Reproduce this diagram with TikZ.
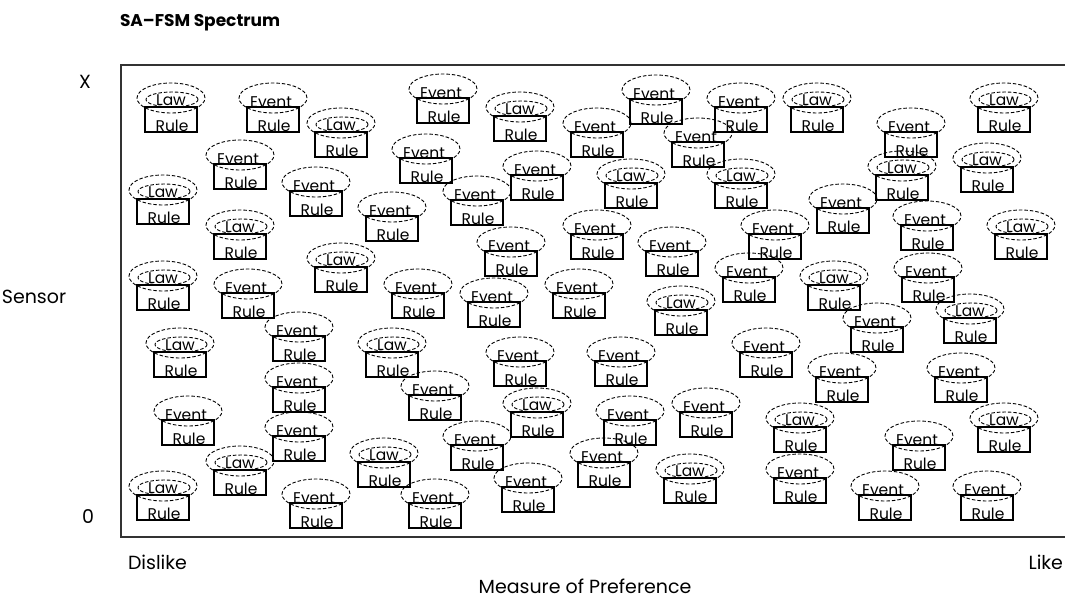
\documentclass[tikz,border=0pt]{standalone}
\usepackage{fontspec}
\setmainfont{Poppins}
\usepackage{tikz}
\usetikzlibrary{shapes.geometric}

\begin{document}
\begin{tikzpicture}[x=1pt, y=-1pt, every node/.style={inner sep=0pt, outer sep=0pt},
      oval/.style={ellipse, draw, dash pattern=on 3.5pt off 2pt, line width=0.9pt, minimum width=68pt, minimum height=30pt},
      inoval/.style={oval, minimum width=52pt, minimum height=15pt},
      rulebox/.style={draw, line width=1.2pt, minimum width=52pt, minimum height=25pt},
      tag/.style={anchor=base, font=\fontsize{15.5}{16}\selectfont},
      axis/.style={font=\fontsize{19}{20}\selectfont}]
      \useasboundingbox (0,0) rectangle (1065,598);
      \node[anchor=west, font=\bfseries\fontsize{17}{18}\selectfont] (title) at (120,23) {SA--FSM Spectrum};
      \draw[line width=2pt, draw=black!80] (121,65) rectangle (1070,537);
      \node[axis] (top) at (85,82) {X};
      \node[axis] (sensor) at (34,297) {Sensor};
      \node[axis] (zero) at (88,517) {0};
      \node[axis, anchor=west] (dislike) at (128,562) {Dislike};
      \node[axis, anchor=east] (like) at (1063,562) {Like};
      \node[axis] (measure) at (585,586) {Measure of Preference};
      % law caps
      \foreach \cx/\cy [count=\i] in {171/98, 341/123, 520/107, 817/98, 1004/98, 631/174, 741/174, 902/166,
          987/158, 163/190, 240/225, 1021/225, 341/258, 163/276, 834/276, 681/301, 970/309, 180/343,
          392/343, 537/403, 800/418, 1004/418, 240/461, 384/453, 690/469, 163/486} {
        \node[oval] (lawoval\i) at (\cx,\cy) {};
        \node[inoval] (lawin\i) at (\cx+1,\cy+1.5) {};
        \node[tag] (lawtxt\i) at (\cx,\cy+7) {Law};
        \node[rulebox] (lawbox\i) at (\cx,\cy+21.5) {};
        \node[tag] (lawrule\i) at (\cx+1,\cy+33) {Rule};
      }
      % event caps
      \foreach \cx/\cy [count=\i] in {273/98, 443/89, 656/90, 597/123, 698/133, 741/98, 911/123, 240/155,
          426/149, 537/166, 316/182, 477/191, 392/207, 843/199, 597/225, 927/216, 511/242, 672/242,
          775/225, 248/284, 418/284, 494/293, 579/284, 749/268, 928/268, 299/327, 877/318, 520/352,
          621/352, 766/343, 299/378, 842/368, 961/368, 435/386, 630/411, 706/403, 188/411, 299/427,
          477/436, 919/436, 604/453, 800/469, 316/494, 435/494, 528/478, 885/486, 987/486} {
        \node[oval] (evoval\i) at (\cx,\cy) {};
        \node[tag] (evtxt\i) at (\cx-2,\cy+9) {Event};
        \node[rulebox] (evbox\i) at (\cx,\cy+21.5) {};
        \node[tag] (evrule\i) at (\cx+1,\cy+33) {Rule};
      }
    \end{tikzpicture}
\end{document}
